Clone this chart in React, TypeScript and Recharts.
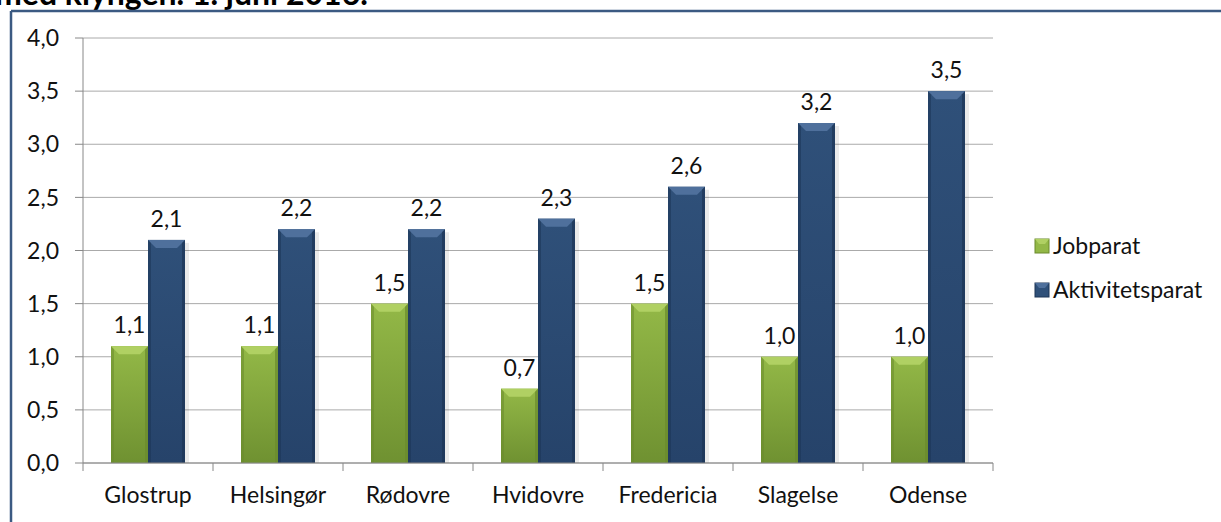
import React from 'react';
import { BarChart, Bar, XAxis, YAxis, CartesianGrid, LabelList } from 'recharts';

const categories = ['Glostrup', 'Helsingør', 'Rødovre', 'Hvidovre', 'Fredericia', 'Slagelse', 'Odense'];
const jobparat = [1.1, 1.1, 1.5, 0.7, 1.5, 1.0, 1.0];
const aktivitetsparat = [2.1, 2.2, 2.2, 2.3, 2.6, 3.2, 3.5];
const yTicks = [0, 0.5, 1, 1.5, 2, 2.5, 3, 3.5, 4];
const seriesNames = ['Jobparat', 'Aktivitetsparat'];
const titleText = 'med klyngen. 1. juni 2016.';

const data = categories.map((c, i) => ({ name: c, jobparat: jobparat[i], aktivitetsparat: aktivitetsparat[i] }));

const W = 1221;
const H = 522;
const PLOT_LEFT = 83;
const PLOT_RIGHT = 993;
const PLOT_TOP = 38;
const PLOT_BOTTOM = 463;
const HALF_BAND = (PLOT_RIGHT - PLOT_LEFT) / categories.length / 2;
const FONT = 'Lato, "Noto Sans", sans-serif';
const FS = 23;
const fmt = (v: number) => v.toFixed(1).replace('.', ',');

const palettes: Record<string, any> = {
  green: { top: '#b0d063', body1: '#93b847', body2: '#6f9131', side: '#6a8a2c', id: 'gGreen' },
  blue: { top: '#4f709c', body1: '#2f5079', body2: '#26436a', side: '#1c3556', id: 'gBlue' },
};

const makeShape = (key: string) => (props: any) => {
  const { x, y, width, height } = props;
  if (!height || height <= 0) return null;
  const p = palettes[key];
  const b = Math.min(8, height / 2);
  const s = 3;
  return (
    <g>
      <rect x={x + width} y={y + 3} width={4} height={height - 3} fill="rgba(0,0,0,0.08)" />
      <rect x={x} y={y} width={width} height={height} fill={`url(#${p.id})`} />
      <polygon points={`${x},${y} ${x + width},${y} ${x + width - b},${y + b} ${x + b},${y + b}`} fill={p.top} />
      <polygon points={`${x},${y} ${x + s},${y + s} ${x + s},${y + height} ${x},${y + height}`} fill={p.side} opacity={0.55} />
      <polygon points={`${x + width},${y} ${x + width - s},${y + s} ${x + width - s},${y + height} ${x + width},${y + height}`} fill={p.side} opacity={0.7} />
    </g>
  );
};

const XTick = (props: any) => {
  const { x, y, payload, index } = props;
  return (
    <g>
      <line x1={x - HALF_BAND} y1={y} x2={x - HALF_BAND} y2={y + 8} stroke="#888" strokeWidth={1} />
      {index === categories.length - 1 && (
        <line x1={x + HALF_BAND} y1={y} x2={x + HALF_BAND} y2={y + 8} stroke="#888" strokeWidth={1} />
      )}
      <text x={x} y={y + 40} textAnchor="middle" fill="#111" fontSize={FS} fontFamily={FONT}>
        {payload.value}
      </text>
    </g>
  );
};

const legendColors = [palettes.green, palettes.blue];

export default function App() {
  return (
    <div style={{ position: 'fixed', left: 0, top: 0, width: W, height: H, overflow: 'hidden', background: '#fff' }}>
      <BarChart
        width={W}
        height={H}
        data={data}
        margin={{ top: PLOT_TOP, right: W - PLOT_RIGHT, bottom: 0, left: 0 }}
        barGap={0}
        barSize={37}
      >
        <defs>
          <linearGradient id="gGreen" x1="0" y1="0" x2="0" y2="1">
            <stop offset="0%" stopColor={palettes.green.body1} />
            <stop offset="100%" stopColor={palettes.green.body2} />
          </linearGradient>
          <linearGradient id="gBlue" x1="0" y1="0" x2="0" y2="1">
            <stop offset="0%" stopColor={palettes.blue.body1} />
            <stop offset="100%" stopColor={palettes.blue.body2} />
          </linearGradient>
        </defs>
        <CartesianGrid vertical={false} stroke="#aaaaaa" strokeWidth={1} />
        <XAxis
          dataKey="name"
          height={H - PLOT_BOTTOM}
          axisLine={{ stroke: '#888', strokeWidth: 1 }}
          tickLine={false}
          tickSize={0}
          tickMargin={0}
          interval={0}
          tick={<XTick />}
        />
        <YAxis
          width={PLOT_LEFT}
          domain={[0, 4]}
          ticks={yTicks}
          tickFormatter={fmt}
          axisLine={{ stroke: '#888', strokeWidth: 1 }}
          tickLine={{ stroke: '#888', strokeWidth: 1 }}
          tickSize={8}
          tickMargin={16}
          tick={{ fill: '#111', fontSize: FS, fontFamily: FONT }}
          interval={0}
        />
        <Bar dataKey="jobparat" isAnimationActive={false} shape={makeShape('green')}>
          <LabelList dataKey="jobparat" position="top" offset={13} formatter={fmt} fill="#111" fontSize={FS} fontFamily={FONT} />
        </Bar>
        <Bar dataKey="aktivitetsparat" isAnimationActive={false} shape={makeShape('blue')}>
          <LabelList dataKey="aktivitetsparat" position="top" offset={13} formatter={fmt} fill="#111" fontSize={FS} fontFamily={FONT} />
        </Bar>
      </BarChart>
      <svg width={W} height={H} style={{ position: 'absolute', left: 0, top: 0, pointerEvents: 'none' }}>
        <text x={-5} y={5} fontSize={32} fontWeight={700} fontFamily={FONT} fill="#000">{titleText}</text>
        <line x1={11} y1={11} x2={W} y2={11} stroke="#3b5a82" strokeWidth={2.5} />
        <line x1={11} y1={11} x2={11} y2={H} stroke="#3b5a82" strokeWidth={2.5} />
        {seriesNames.map((n, i) => (
          <g key={n}>
            <rect x={1035} y={239 + i * 44} width={14} height={14} fill={legendColors[i].body1} stroke={legendColors[i].side} strokeWidth={1} />
            <polygon points={`${1035},${239 + i * 44} ${1049},${239 + i * 44} ${1045},${244 + i * 44} ${1039},${244 + i * 44}`} fill={legendColors[i].top} />
            <text x={1053} y={254 + i * 44} fontSize={FS} fontFamily={FONT} fill="#111">{n}</text>
          </g>
        ))}
      </svg>
    </div>
  );
}
